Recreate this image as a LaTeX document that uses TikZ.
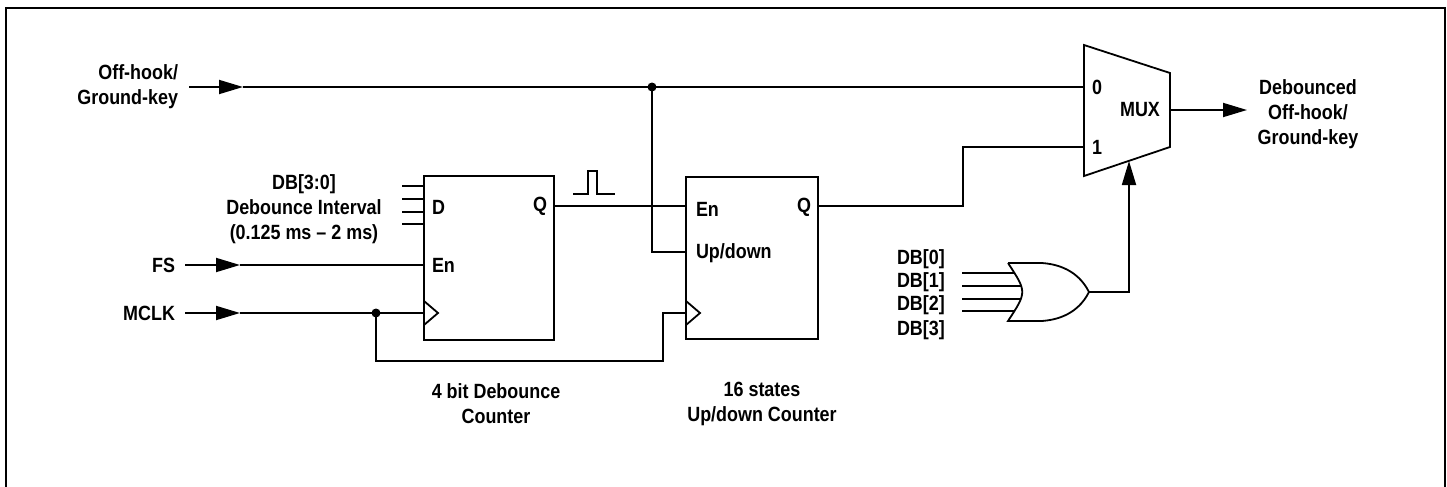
\documentclass[tikz,border=0pt]{standalone}
\usepackage{fontspec}
\setmainfont{Liberation Sans}[FakeStretch=0.87]
\usetikzlibrary{arrows.meta}

\begin{document}
\begin{tikzpicture}[
		x=0.5pt, y=-0.5pt,
		line width=0.9pt,
		every node/.style={font=\fontsize{10.3}{12.5}\selectfont\bfseries, inner sep=0pt, outer sep=0pt},
		counter/.style={draw, rectangle, anchor=north west, minimum width=65pt, minimum height=82pt},
		sig/.style={-{Triangle[length=12pt, width=7pt]}},
		dot/.style={circle, fill, minimum size=4.5pt}
	]
  \useasboundingbox (0,0) rectangle (1447,487);
  \draw[line width=1.4pt] (6,495) -- (6,8) -- (1445,8) -- (1445,495);

  % inputs
  \node (off_lbl) [anchor=east, align=right] at (178,87) {Off-hook/\\Ground-key};
  \node (db_lbl) [align=center] at (304,209) {DB[3:0]\\Debounce Interval\\(0.125 ms -- 2 ms)};
  \node (fs_lbl) [anchor=east] at (175,265) {FS};
  \node (mclk_lbl) [anchor=east] at (175,313) {MCLK};
  \coordinate (off_s) at (189,87);
  \coordinate (off_a) at (243,87);
  \coordinate (fs_s) at (185,265);
  \coordinate (fs_a) at (240,265);
  \coordinate (mclk_s) at (185,313);
  \coordinate (mclk_a) at (240,313);

  % counters
  \node (cnt_db) [counter] at (424,176) {};
  \node (cnt_ud) [counter, minimum width=66pt, minimum height=81pt] at (686,177) {};
  \node (cnt_db_d) [anchor=west] at (432,207) {D};
  \node (cnt_db_q) [anchor=east] at (547,206) {Q};
  \node (cnt_db_en) [anchor=west] at (432,265) {En};
  \node (cnt_ud_en) [anchor=west] at (696,209) {En};
  \node (cnt_ud_ud) [anchor=west] at (696,253) {Up/down};
  \node (cnt_ud_q) [anchor=east] at (811,207) {Q};
  \node (cnt_db_name) [align=center] at (496,404) {4 bit Debounce\\Counter};
  \node (cnt_ud_name) [align=center] at (762,404) {16 states\\Up/down Counter};
  \draw (cnt_db.west |- 0,301) -- (438,313) -- (cnt_db.west |- 0,325);
  \draw (cnt_ud.west |- 0,301) -- (700,313) -- (cnt_ud.west |- 0,325);
  \foreach \y in {186,199,212,224}
    \draw (402,\y) -- (cnt_db.west |- 0,\y);

  % mux
  \coordinate (mux_tl) at (1084,45);
  \coordinate (mux_tr) at (1170,73);
  \coordinate (mux_br) at (1170,147);
  \coordinate (mux_bl) at (1084,176);
  \draw (mux_tl) -- (mux_tr) -- (mux_br) -- (mux_bl) -- cycle;
  \node (mux) at (1140,110) {MUX};
  \node (mux_0) at (1097,87) {0};
  \node (mux_1) at (1097,147) {1};
  \coordinate (mux_sel) at (1129,161);
  \coordinate (mux_out) at (1170,110);
  \coordinate (deb_a) at (1247,110);
  \node (deb_lbl) [align=center] at (1308,114) {Debounced\\Off-hook/\\Ground-key};

  % or gate
  \foreach \y [count=\i from 0] in {259,282,305,330}
    \node (db_\i) [anchor=west] at (897,\y) {DB[\i]};
  \foreach \y in {273,286,299,311}
    \draw (962,\y) -- (1024,\y);
  \filldraw[fill=white] (1008,263) -- (1042,263) .. controls (1070,265) and (1083,280) .. (1089,292)
    .. controls (1083,304) and (1070,319) .. (1042,321) -- (1008,321) .. controls (1027,292) .. (1008,263);
  \coordinate (or_out) at (1089,292);

  % wires
  \draw[sig] (off_s) -- (off_a);
  \draw (off_a) -- (mux_tl |- off_a);
  \node (j_off) [dot] at (652,87) {};
  \draw (j_off.center) |- (cnt_ud.west |- 0,252);
  \draw[sig] (fs_s) -- (fs_a);
  \draw (fs_a) -- (cnt_db.west |- fs_a);
  \draw[sig] (mclk_s) -- (mclk_a);
  \draw (mclk_a) -- (cnt_db.west |- mclk_a);
  \node (j_clk) [dot] at (376,313) {};
  \draw (j_clk.center) -- (376,361) -- (663,361) -- (663,313) -- (cnt_ud.west |- 0,313);
  \draw (cnt_db.east |- 0,206) -- (cnt_ud.west |- 0,206);
  \draw (cnt_ud.east |- 0,206) -- (963,206) |- (mux_bl |- mux_1);
  \draw[sig] (or_out) -| (mux_sel);
  \draw[sig] (mux_out) -- (deb_a);
  \draw[line width=0.8pt] (573,194) -- (588,194) -- (588,171) -- (597,171) -- (597,194) -- (615,194);
\end{tikzpicture}
\end{document}
